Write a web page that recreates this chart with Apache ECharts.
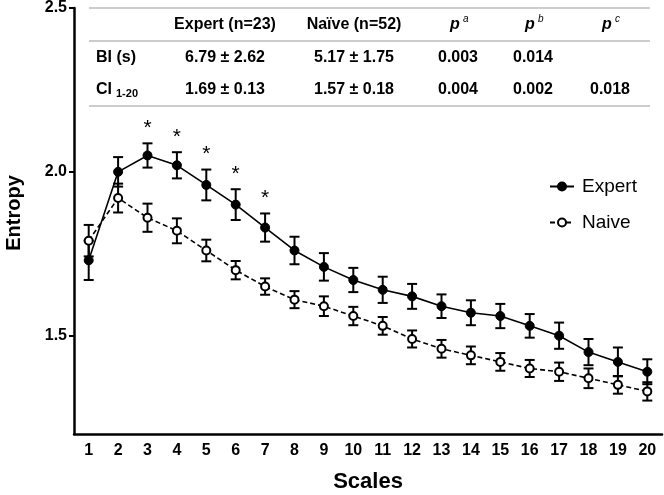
<!DOCTYPE html>
<html>
<head>
<meta charset="utf-8">
<script src="https://cdn.jsdelivr.net/npm/echarts@6/dist/echarts.min.js"></script>
<style>html,body{margin:0;padding:0;background:#fff}#c{width:664px;height:495px}</style>
</head>
<body>
<div id="c"></div>
<script>
// ---- data ----
const scales = ['1','2','3','4','5','6','7','8','9','10','11','12','13','14','15','16','17','18','19','20'];
const expert   = [1.73, 2.00, 2.05, 2.02, 1.96, 1.90, 1.83, 1.76, 1.71, 1.67, 1.64, 1.62, 1.59, 1.57, 1.56, 1.53, 1.50, 1.45, 1.42, 1.39];
const expertSE = [0.060, 0.045, 0.037, 0.040, 0.047, 0.047, 0.043, 0.042, 0.042, 0.037, 0.040, 0.038, 0.036, 0.038, 0.037, 0.036, 0.040, 0.040, 0.044, 0.038];
const naive    = [1.79, 1.92, 1.86, 1.82, 1.76, 1.70, 1.65, 1.61, 1.59, 1.56, 1.53, 1.49, 1.46, 1.44, 1.42, 1.40, 1.39, 1.37, 1.35, 1.33];
const naiveSE  = [0.048, 0.044, 0.043, 0.038, 0.033, 0.028, 0.025, 0.026, 0.030, 0.028, 0.027, 0.026, 0.027, 0.027, 0.027, 0.026, 0.028, 0.030, 0.027, 0.028];
const starScales = ['3','4','5','6','7'];
const yTicks = [1.5, 2.0, 2.5];

const tableHeader = ['', 'Expert (n=23)', 'Naïve (n=52)', 'p', 'p', 'p'];
const tableSup    = ['', '', '', 'a', 'b', 'c'];
const rowBI = ['BI (s)', '6.79 ± 2.62', '5.17 ± 1.75', '0.003', '0.014', ''];
const rowCI = ['CI', '1.69 ± 0.13', '1.57 ± 0.18', '0.004', '0.002', '0.018'];
const rowCISub = '1-20';

// ---- chart ----
const FONT = '"Liberation Sans", Arial, Helvetica, sans-serif';
const chart = echarts.init(document.getElementById('c'), null, {renderer: 'canvas'});

const errData = (m, se) => m.map((v, i) => [i, +(v - se[i]).toFixed(4), +(v + se[i]).toFixed(4)]);

function errRender(params, api) {
  const x = api.value(0), lo = api.value(1), hi = api.value(2);
  const pHi = api.coord([x, hi]), pLo = api.coord([x, lo]);
  const w = 5;
  const st = {stroke: '#000', lineWidth: 2};
  return {type: 'group', children: [
    {type: 'line', shape: {x1: pHi[0], y1: pHi[1], x2: pLo[0], y2: pLo[1]}, style: st},
    {type: 'line', shape: {x1: pHi[0] - w, y1: pHi[1], x2: pHi[0] + w, y2: pHi[1]}, style: st},
    {type: 'line', shape: {x1: pLo[0] - w, y1: pLo[1], x2: pLo[0] + w, y2: pLo[1]}, style: st}
  ]};
}

const starData = starScales.map(s => {
  const i = scales.indexOf(s);
  return [i, expert[i] + expertSE[i]];
});

// table graphics
const colX = [96, 225, 354, 458, 533, 610];
const rowY = [25, 58, 90];
const graphics = [];
const tf = (sz, style) => (style || '') + ' bold ' + sz + 'px ' + FONT;
function txt(x, y, text, font, align) {
  graphics.push({type: 'text', x: x, y: y, silent: true,
    style: {text: text, font: font, fill: '#000', textAlign: align, align: align, textVerticalAlign: 'middle', verticalAlign: 'middle'}});
}
[8, 41, 106].forEach(y => graphics.push({type: 'line', silent: true,
  shape: {x1: 89, y1: y, x2: 650, y2: y}, style: {stroke: '#9a9a9a', lineWidth: 1.2}}));
tableHeader.forEach((t, j) => {
  if (!t) return;
  if (tableSup[j]) {
    txt(colX[j] - 3, rowY[0], t, tf(16, 'italic'), 'center');
    txt(colX[j] + 5, rowY[0] - 6, tableSup[j], 'italic 10px ' + FONT, 'left');
  } else {
    txt(colX[j], rowY[0], t, tf(16), 'center');
  }
});
rowBI.forEach((t, j) => { if (t) txt(colX[j], rowY[1], t, tf(16), j === 0 ? 'left' : 'center'); });
rowCI.forEach((t, j) => { if (t) txt(colX[j], rowY[2], t, tf(16), j === 0 ? 'left' : 'center'); });
txt(colX[0] + 20, rowY[2] + 4, rowCISub, tf(11), 'left');

chart.setOption({
  animation: false,
  backgroundColor: '#fff',
  textStyle: {fontFamily: FONT},
  grid: {left: 74, right: 2, top: 8, bottom: 61, containLabel: false, outerBoundsMode: 'none'},
  legend: {
    orient: 'vertical', left: 544, top: 172, itemGap: 17, itemWidth: 24, itemHeight: 10,
    textStyle: {fontSize: 19, color: '#000', fontFamily: FONT, padding: [0, 0, 0, 3]},
    data: ['Expert', 'Naive']
  },
  xAxis: {
    type: 'category', data: scales, boundaryGap: true,
    name: 'Scales', nameLocation: 'middle', nameGap: 37,
    nameTextStyle: {fontSize: 22, fontWeight: 'bold', color: '#000', fontFamily: FONT},
    axisLine: {lineStyle: {color: '#000', width: 2.5}},
    axisTick: {alignWithLabel: true, length: 6, lineStyle: {color: '#000', width: 2}},
    axisLabel: {fontSize: 16, fontWeight: 'bold', color: '#000', margin: 9, interval: 0, fontFamily: FONT},
    splitLine: {show: false}
  },
  yAxis: {
    type: 'value', min: 1.2, max: 2.5,
    name: 'Entropy', nameLocation: 'middle', nameGap: 50, nameRotate: 90,
    nameTextStyle: {fontSize: 20, fontWeight: 'bold', color: '#000', fontFamily: FONT, padding: [0, 0, 0, 16]},
    axisLine: {show: true, lineStyle: {color: '#000', width: 2.5}},
    axisTick: {show: true, length: 5, customValues: yTicks, lineStyle: {color: '#000', width: 2}},
    axisLabel: {customValues: yTicks, formatter: v => v.toFixed(1), fontSize: 16, fontWeight: 'bold', color: '#000', margin: 7, fontFamily: FONT},
    splitLine: {show: false}
  },
  series: [
    {type: 'custom', name: 'errE', data: errData(expert, expertSE), renderItem: errRender, encode: {x: 0, y: [1, 2]}, z: 2, silent: true},
    {type: 'custom', name: 'errN', data: errData(naive, naiveSE), renderItem: errRender, encode: {x: 0, y: [1, 2]}, z: 2, silent: true},
    {type: 'line', name: 'Expert', data: expert, z: 4,
      symbol: 'circle', symbolSize: 9,
      lineStyle: {color: '#000', width: 1.6, type: 'solid'},
      itemStyle: {color: '#000', borderColor: '#000', borderWidth: 1}},
    {type: 'line', name: 'Naive', data: naive, z: 3,
      symbol: 'circle', symbolSize: 8,
      lineStyle: {color: '#000', width: 1.6, type: [5, 3]},
      itemStyle: {color: '#fff', borderColor: '#000', borderWidth: 2}},
    {type: 'custom', name: 'stars', data: starData, encode: {x: 0, y: 1}, z: 5, silent: true,
      renderItem: (params, api) => {
        const p = api.coord([api.value(0), api.value(1)]);
        return {type: 'text', x: p[0], y: p[1] - 15,
          style: {text: '*', font: '21px ' + FONT, fill: '#000', textAlign: 'center', align: 'center', textVerticalAlign: 'middle', verticalAlign: 'middle'}};
      }}
  ],
  graphic: {elements: graphics}
});
</script>
</body>
</html>
